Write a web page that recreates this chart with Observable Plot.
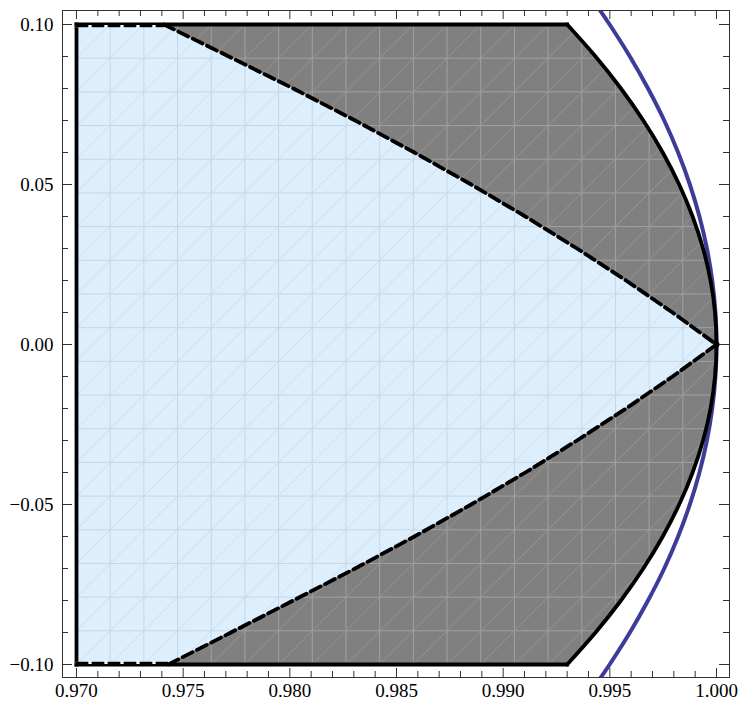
<!DOCTYPE html>
<html><head><meta charset="utf-8">
<script src="https://cdn.jsdelivr.net/npm/d3@7"></script>
<script src="https://cdn.jsdelivr.net/npm/@observablehq/plot@0.6"></script>
<style>body{margin:0;background:#fff} svg{display:block}</style>
</head><body><div id="chart"></div>
<script>
// ---- data ----
const curveY = [0.10, 0.09, 0.08, 0.07, 0.06, 0.05, 0.04, 0.03, 0.02, 0.01, 0.00,
                -0.01, -0.02, -0.03, -0.04, -0.05, -0.06, -0.07, -0.08, -0.09, -0.10];
// solid black boundary of the gray region
const solidX = [0.99300, 0.99433, 0.99552, 0.99657, 0.99748, 0.99825, 0.99888, 0.99937, 0.99972, 0.99993, 1.00000,
                0.99993, 0.99972, 0.99937, 0.99888, 0.99825, 0.99748, 0.99657, 0.99552, 0.99433, 0.99300];
// dashed boundary of the light-blue region
const dashX  = [0.97410, 0.97714, 0.98016, 0.98306, 0.98584, 0.98850, 0.99104, 0.99346, 0.99576, 0.99794, 1.00000,
                0.99794, 0.99576, 0.99346, 0.99104, 0.98850, 0.98584, 0.98306, 0.98016, 0.97724, 0.97430];
// dark blue curve
const circleY = [0.1044, 0.10, 0.09, 0.08, 0.07, 0.06, 0.05, 0.04, 0.03, 0.02, 0.01, 0.00,
                 -0.01, -0.02, -0.03, -0.04, -0.05, -0.06, -0.07, -0.08, -0.09, -0.10, -0.1044];
const circleX = [0.99454, 0.99499, 0.99594, 0.99679, 0.99755, 0.99820, 0.99875, 0.99920, 0.99955, 0.99980, 0.99995, 1.00000,
                 0.99995, 0.99980, 0.99955, 0.99920, 0.99875, 0.99820, 0.99755, 0.99679, 0.99594, 0.99499, 0.99454];
const xLeft = 0.970;

// tick values and labels
const xMajor = [0.970, 0.975, 0.980, 0.985, 0.990, 0.995, 1.000];
const xLabels = ["0.970", "0.975", "0.980", "0.985", "0.990", "0.995", "1.000"];
const xMinor = [0.971, 0.972, 0.973, 0.974, 0.976, 0.977, 0.978, 0.979, 0.981, 0.982, 0.983, 0.984,
                0.986, 0.987, 0.988, 0.989, 0.991, 0.992, 0.993, 0.994, 0.996, 0.997, 0.998, 0.999];
const yMajor = [-0.10, -0.05, 0.00, 0.05, 0.10];
const yLabels = ["\u22120.10", "\u22120.05", "0.00", "0.05", "0.10"];
const yMinor = [-0.09, -0.08, -0.07, -0.06, -0.04, -0.03, -0.02, -0.01,
                0.01, 0.02, 0.03, 0.04, 0.06, 0.07, 0.08, 0.09];

// ---- layout ----
const W = 739, H = 701, mL = 62, mR = 10, mT = 10, mB = 24;
const FW = W - mL - mR, FH = H - mT - mB;

// tables
const gray = curveY.map((y, i) => ({y, x: solidX[i]}));
const blue = curveY.map((y, i) => ({y, x: dashX[i]}));
const circle = circleY.map((y, i) => ({y, x: circleX[i]}));
const yTop = curveY[0], yBot = curveY[curveY.length - 1];
const grayLeftEdge = [{x: xLeft, y: yBot}, {x: xLeft, y: yTop}];
const grayTopEdge = [{x: xLeft, y: yTop}, {x: solidX[0], y: yTop}];
const grayBotEdge = [{x: xLeft, y: yBot}, {x: solidX[solidX.length - 1], y: yBot}];
const blueTopEdge = [{x: xLeft, y: yTop}, {x: dashX[0], y: yTop}];
const blueBotEdge = [{x: xLeft, y: yBot}, {x: dashX[dashX.length - 1], y: yBot}];
const tip = [{x: dashX[10], y: curveY[10]}];
const xTickTable = xMajor.map((v, i) => ({v, label: xLabels[i]}));
const yTickTable = yMajor.map((v, i) => ({v, label: yLabels[i]}));

// faint triangulation mesh (texture of the region fills)
const meshN = 19;
const meshX = d3.range(meshN + 1).map(i => xLeft + i * (solidX[10] - xLeft) / meshN);
const meshY = d3.range(meshN + 1).map(j => yBot + j * (yTop - yBot) / meshN);
const meshCells = [];
for (let i = 0; i < meshN; i++) for (let j = 0; j < meshN; j++)
  meshCells.push({x1: meshX[i], y1: meshY[j], x2: meshX[i + 1], y2: meshY[j + 1]});

function meshMarks(c, cd) {
  return [
    Plot.ruleX(meshX, {x: d => d, stroke: c, strokeWidth: 1}),
    Plot.ruleY(meshY, {y: d => d, stroke: c, strokeWidth: 1}),
    Plot.link(meshCells, {x1: "x1", y1: "y1", x2: "x2", y2: "y2", stroke: cd, strokeWidth: 0.8})
  ];
}

const GRAY = "#808080", BLUE = "#ddeefd";
const MG = ["#a1a1a1", "#9b9b9b"], MB = ["#c6d6e6", "#cad9e9"];
const tickC = "#333";
const FONT = "'Liberation Serif', 'Times New Roman', Times, serif";
const svg = Plot.plot({
  width: W, height: H,
  marginLeft: mL, marginRight: mR, marginTop: mT, marginBottom: mB,
  style: {background: "#fff", fontFamily: FONT, fontSize: "19px", color: "#000"},
  x: {domain: [0.969344, 1.000609], axis: null},
  y: {domain: [-0.10406, 0.104375], axis: null},
  marks: [
    Plot.areaX(gray, {y: "y", x1: xLeft, x2: "x", fill: GRAY}),
    ...meshMarks(MG[0], MG[1]),
    Plot.areaX(blue, {y: "y", x1: xLeft, x2: "x", fill: BLUE}),
    ...meshMarks(MB[0], MB[1]),
    Plot.line(circle, {x: "x", y: "y", stroke: "#3d3d99", strokeWidth: 4, curve: "catmull-rom", clip: true}),
    Plot.line(gray, {x: "x", y: "y", stroke: "#000", strokeWidth: 3.8, curve: "catmull-rom"}),
    Plot.line(grayTopEdge, {x: "x", y: "y", stroke: "#000", strokeWidth: 3.8, strokeLinecap: "square"}),
    Plot.line(grayBotEdge, {x: "x", y: "y", stroke: "#000", strokeWidth: 3.8, strokeLinecap: "square"}),
    Plot.line(grayLeftEdge, {x: "x", y: "y", stroke: "#000", strokeWidth: 3.8, strokeLinecap: "square"}),
    Plot.line(blueTopEdge, {x: "x", y: "y", stroke: "#fff", strokeWidth: 2.2, dy: 1.6}),
    Plot.line(blueTopEdge, {x: "x", y: "y", stroke: "#000", strokeWidth: 2.2, dy: 1.6, strokeDasharray: "11,5"}),
    Plot.line(blueBotEdge, {x: "x", y: "y", stroke: "#fff", strokeWidth: 2.2, dy: -1.6}),
    Plot.line(blueBotEdge, {x: "x", y: "y", stroke: "#000", strokeWidth: 2.2, dy: -1.6, strokeDasharray: "11,5"}),
    Plot.line(blue, {x: "x", y: "y", stroke: "#000", strokeWidth: 3.8, strokeDasharray: "11,5"}),
    Plot.dot(tip, {x: "x", y: "y", r: 3, fill: "#000"}),
    Plot.frame({stroke: tickC, strokeWidth: 1}),
    // inward ticks on all four sides
    Plot.ruleX(xMajor, {x: d => d, stroke: tickC, insetTop: FH - 9}),
    Plot.ruleX(xMinor, {x: d => d, stroke: tickC, insetTop: FH - 6}),
    Plot.ruleX(xMajor, {x: d => d, stroke: tickC, insetBottom: FH - 9}),
    Plot.ruleX(xMinor, {x: d => d, stroke: tickC, insetBottom: FH - 6}),
    Plot.ruleY(yMajor, {y: d => d, stroke: tickC, insetRight: FW - 10}),
    Plot.ruleY(yMinor, {y: d => d, stroke: tickC, insetRight: FW - 6}),
    Plot.ruleY(yMajor, {y: d => d, stroke: tickC, insetLeft: FW - 10}),
    Plot.ruleY(yMinor, {y: d => d, stroke: tickC, insetLeft: FW - 6}),
    // tick labels
    Plot.text(xTickTable, {x: "v", text: "label", frameAnchor: "bottom", lineAnchor: "middle",
                           textAnchor: "middle", dy: 13.5, fontSize: 19, fill: "#000"}),
    Plot.text(yTickTable, {y: "v", text: "label", frameAnchor: "left", lineAnchor: "middle",
                           textAnchor: "end", dx: -9, fontSize: 19, fill: "#000"})
  ]
});

// clip each mesh texture to its own filled region
(function () {
  const s = d3.select(svg);
  const defs = s.insert("defs", ":first-child");
  function findGroup(attr, val) {
    return s.selectAll("g").filter(function () {
      const v = this.getAttribute(attr);
      return v && v.toLowerCase() === val.toLowerCase();
    });
  }
  function clipTo(fill, strokes, id) {
    const p = findGroup("fill", fill).select("path");
    if (p.empty()) return;
    defs.append("clipPath").attr("id", id).append("path").attr("d", p.attr("d"));
    strokes.forEach(c => findGroup("stroke", c).attr("clip-path", `url(#${id})`));
  }
  clipTo(GRAY, MG, "clipGrayRegion");
  clipTo(BLUE, MB, "clipBlueRegion");
})();

document.getElementById("chart").appendChild(svg);
</script>
</body></html>
